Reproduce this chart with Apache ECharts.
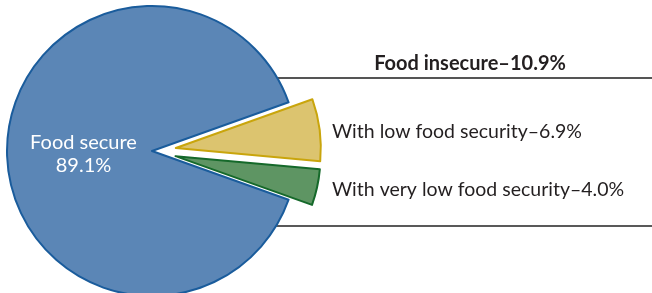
<!DOCTYPE html>
<html>
<head>
<meta charset="utf-8">
<script src="https://cdn.jsdelivr.net/npm/echarts@6/dist/echarts.min.js"></script>
<style>
  html, body { margin: 0; padding: 0; background: #fff; }
  #main { width: 652px; height: 293px; }
</style>
</head>
<body>
<div id="main"></div>
<script>
// 分类
let categories = ['With low food security', 'With very low food security', 'Food secure']
// 百分比
let shares = [6.9, 4.0, 89.1]
// 是否拉出
let pulled = [true, true, false]
// 颜色
let fills = ['#dcc46f', '#5e9563', '#5b86b6']
let borders = ['#c9a50c', '#15692a', '#1a5c9c']
let insecureTitle = 'Food insecure'
let insecureTotal = 10.9

let myChart = echarts.init(document.getElementById('main'))

// 扇形起始角：让不安全部分居中在右侧
let startAngle = insecureTotal / 100 * 360 / 2

let pieData = categories.map((name, i) => {
    return {
        name: name,
        value: shares[i],
        selected: pulled[i],
        itemStyle: {color: fills[i], borderColor: borders[i], borderWidth: 2},
        label: {show: !pulled[i]}
    }
})

let font = 'Lato, "Open Sans", sans-serif'

let option = {
    animation: false,
    graphic: [
        {type: 'line', z: 0, shape: {x1: 262, y1: 78, x2: 652, y2: 78}, style: {stroke: '#555', lineWidth: 2}},
        {type: 'line', z: 0, shape: {x1: 262, y1: 226, x2: 652, y2: 226}, style: {stroke: '#222', lineWidth: 1.5}},
        {type: 'text', z: 10, x: 470, y: 64, style: {text: insecureTitle + '–' + insecureTotal + '%', font: 'bold 20px ' + font, fill: '#231f20', align: 'center', verticalAlign: 'middle'}},
        {type: 'text', z: 10, x: 332, y: 132, style: {text: categories[0] + '–' + shares[0].toFixed(1) + '%', font: '19.5px ' + font, fill: '#231f20', verticalAlign: 'middle'}},
        {type: 'text', z: 10, x: 332, y: 190, style: {text: categories[1] + '–' + shares[1].toFixed(1) + '%', font: '19.5px ' + font, fill: '#231f20', verticalAlign: 'middle'}}
    ],
    series: [
        {
            type: 'pie',
            center: [152, 151],
            radius: 145,
            startAngle: startAngle,
            clockwise: true,
            selectedMode: 'multiple',
            selectedOffset: 24,
            z: 5,
            label: {
                position: 'inside',
                formatter: p => p.name + '\n' + p.value + '%',
                color: '#fff',
                fontFamily: font,
                fontSize: 20,
                lineHeight: 23,
                offset: [7, 3]
            },
            labelLine: {show: false},
            emphasis: {disabled: true},
            data: pieData
        }
    ]
}
myChart.setOption(option)
</script>
</body>
</html>
